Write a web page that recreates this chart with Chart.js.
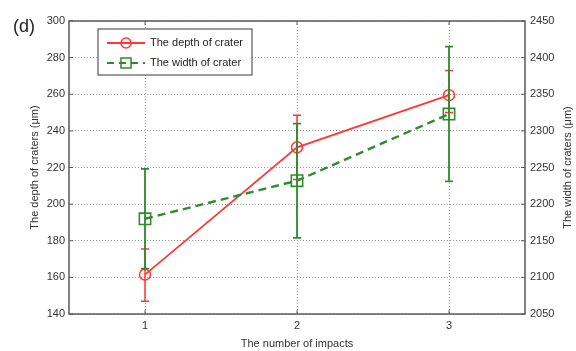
<!DOCTYPE html>
<html lang="en">
<head>
<meta charset="UTF-8">
<title>Crater depth and width</title>
<script src="https://cdn.jsdelivr.net/npm/chart.js@4.4.0/dist/chart.umd.min.js"></script>
<style>
  html, body { margin: 0; padding: 0; background: #fff; }
  #wrap { width: 576px; height: 351px; }
</style>
</head>
<body>
<div id="wrap"><canvas id="myChart" width="576" height="351"></canvas></div>
<script>
// data
const impacts = ['1', '2', '3'];
const depth = [161.5, 231, 259.5];        // left axis, um
const depthErrLow = [14.5, 17.5, 9.5];
const depthErrHigh = [14, 17.5, 13.5];
const width = [2180, 2232, 2323];          // right axis, um
const widthErr = [68, 78, 92];
const depthTicks = [140, 300, 20];         // min, max, step
const widthTicks = [2050, 2450, 50];

const RED = 'rgb(255,55,55)';
const GREEN = 'rgb(45,140,45)';
const FONT = 'Liberation Sans, Arial, sans-serif';
const GRID = '#9a9a9a';

// error bars, drawn right after each dataset so the layering follows it
const errorBars = {
	id: 'errorBars',
	afterDatasetDraw(chart, args) {
		const ds = chart.data.datasets[args.index];
		if (!ds.errLow) return;
		const ctx = chart.ctx;
		const scale = chart.scales[ds.yAxisID];
		ctx.save();
		ctx.strokeStyle = ds.borderColor;
		ctx.lineWidth = ds.errWidth;
		ctx.setLineDash([]);
		args.meta.data.forEach(function (pt, i) {
			const top = scale.getPixelForValue(ds.data[i] + ds.errHigh[i]);
			const bot = scale.getPixelForValue(ds.data[i] - ds.errLow[i]);
			const c = ds.capHalf;
			ctx.beginPath();
			ctx.moveTo(pt.x, top); ctx.lineTo(pt.x, bot);
			ctx.moveTo(pt.x - c, top); ctx.lineTo(pt.x + c, top);
			ctx.moveTo(pt.x - c, bot); ctx.lineTo(pt.x + c, bot);
			ctx.stroke();
		});
		ctx.restore();
	}
};

// frame, inward ticks, right title, panel letter and the legend box
const decor = {
	id: 'decor',
	afterDraw(chart) {
		const ctx = chart.ctx;
		const a = chart.chartArea;
		ctx.save();
		ctx.strokeStyle = '#5a5a5a';
		ctx.lineWidth = 1;
		ctx.beginPath();
		chart.scales.y.ticks.forEach(function (t) {
			const y = chart.scales.y.getPixelForValue(t.value);
			ctx.moveTo(a.left, y); ctx.lineTo(a.left + 4, y);
		});
		chart.scales.y1.ticks.forEach(function (t) {
			const y = chart.scales.y1.getPixelForValue(t.value);
			ctx.moveTo(a.right, y); ctx.lineTo(a.right - 4, y);
		});
		chart.scales.x.ticks.forEach(function (t, i) {
			const x = chart.scales.x.getPixelForValue(i);
			ctx.moveTo(x, a.bottom); ctx.lineTo(x, a.bottom - 4);
			ctx.moveTo(x, a.top); ctx.lineTo(x, a.top + 4);
		});
		ctx.stroke();
		ctx.lineWidth = 1.5;
		ctx.strokeRect(a.left, a.top, a.right - a.left, a.bottom - a.top);

		// right axis title reads bottom to top like the left one
		ctx.fillStyle = '#333';
		ctx.font = '11px ' + FONT;
		ctx.textAlign = 'center';
		ctx.textBaseline = 'middle';
		ctx.translate(568, (a.top + a.bottom) / 2);
		ctx.rotate(-Math.PI / 2);
		ctx.fillText('The width of craters (\u03bcm)', 0, 0);
		ctx.setTransform(1, 0, 0, 1, 0, 0);

		ctx.font = '18px ' + FONT;
		ctx.textAlign = 'left';
		ctx.fillStyle = '#222';
		ctx.fillText('(d)', 13, 27);

		// legend
		const lx = 98, ly = 29, lw = 154, lh = 46;
		ctx.fillStyle = '#fff';
		ctx.fillRect(lx, ly, lw, lh);
		ctx.strokeStyle = '#5a5a5a';
		ctx.lineWidth = 1.2;
		ctx.strokeRect(lx, ly, lw, lh);
		const rows = [
			{ text: 'The depth of crater', color: RED, dash: [], lw: 1.8, y: 43 },
			{ text: 'The width of crater', color: GREEN, dash: [7, 5], lw: 2.2, y: 63 }
		];
		rows.forEach(function (r, i) {
			ctx.strokeStyle = r.color;
			ctx.lineWidth = r.lw;
			ctx.setLineDash(r.dash);
			ctx.beginPath();
			ctx.moveTo(107, r.y); ctx.lineTo(145, r.y);
			ctx.stroke();
			ctx.setLineDash([]);
			ctx.lineWidth = 1.5;
			ctx.beginPath();
			if (i === 0) ctx.arc(126, r.y, 5, 0, Math.PI * 2);
			else ctx.rect(121, r.y - 5, 10, 10);
			ctx.stroke();
			ctx.fillStyle = '#222';
			ctx.font = '11px ' + FONT;
			ctx.textAlign = 'left';
			ctx.fillText(r.text, 150, r.y);
		});
		ctx.restore();
	}
};

// plain numbers, no thousands separator
function plain(v) { return String(v); }

const ctx = document.getElementById('myChart').getContext('2d');
const chart = new Chart(ctx, {
	type: 'line',
	data: {
		labels: impacts,
		datasets: [{
			label: 'The depth of crater',
			data: depth,
			yAxisID: 'y',
			borderColor: RED,
			backgroundColor: 'transparent',
			borderWidth: 1.8,
			pointStyle: 'circle',
			pointRadius: 5.5,
			pointBorderWidth: 1.5,
			errLow: depthErrLow,
			errHigh: depthErrHigh,
			errWidth: 1.5,
			capHalf: 4,
			order: 1
		}, {
			label: 'The width of crater',
			data: width,
			yAxisID: 'y1',
			borderColor: GREEN,
			backgroundColor: 'transparent',
			borderWidth: 2.4,
			borderDash: [8, 5],
			pointStyle: 'rect',
			pointRadius: 8,
			pointBorderWidth: 1.6,
			errLow: widthErr,
			errHigh: widthErr,
			errWidth: 1.8,
			capHalf: 4,
			order: 0
		}]
	},
	options: {
		responsive: false,
		animation: false,
		layout: { padding: { top: 21, left: 0, right: 0, bottom: 0 } },
		plugins: { legend: { display: false }, tooltip: { enabled: false } },
		scales: {
			x: {
				offset: true,
				grid: { offset: false, color: GRID, drawTicks: false },
				border: { display: false, dash: [1, 2] },
				ticks: { padding: 5, color: '#333', font: { family: FONT, size: 11 } },
				title: { display: true, text: 'The number of impacts', color: '#333',
					font: { family: FONT, size: 11 }, padding: { top: 0, bottom: 0 } },
				afterFit(scale) { scale.height = 37; }
			},
			y: {
				position: 'left',
				min: depthTicks[0], max: depthTicks[1],
				ticks: { stepSize: depthTicks[2], padding: 4, color: '#333', callback: plain,
					font: { family: FONT, size: 11 } },
				grid: { color: GRID, drawTicks: false },
				border: { display: false, dash: [1, 2] },
				title: { display: true, text: 'The depth of craters (\u03bcm)', color: '#333',
					font: { family: FONT, size: 11 }, padding: { top: 28, bottom: 0 } },
				afterFit(scale) { scale.width = 69; }
			},
			y1: {
				position: 'right',
				min: widthTicks[0], max: widthTicks[1],
				ticks: { stepSize: widthTicks[2], padding: 5, color: '#333', callback: plain,
					font: { family: FONT, size: 11 } },
				grid: { display: false, drawTicks: false },
				border: { display: false },
				afterFit(scale) { scale.width = 51; }
			}
		}
	},
	plugins: [errorBars, decor]
});
</script>
</body>
</html>
